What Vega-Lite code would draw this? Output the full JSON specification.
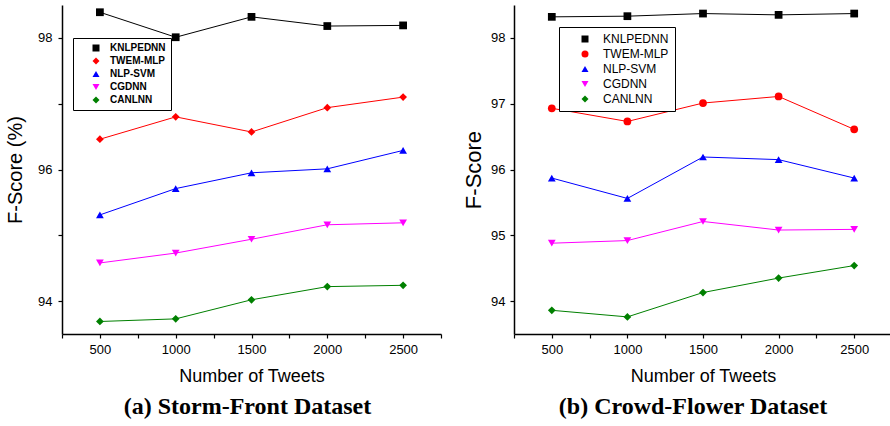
{
  "$schema": "https://vega.github.io/schema/vega-lite/v6.json",
  "padding": {"left": 5, "top": 5, "right": 0, "bottom": 0},
  "background": "white",
  "datasets": {
    "storm": [
      {"model": "KNLPEDNN", "tweets": 500, "score": 98.39},
      {"model": "KNLPEDNN", "tweets": 1000, "score": 98.01},
      {"model": "KNLPEDNN", "tweets": 1500, "score": 98.32},
      {"model": "KNLPEDNN", "tweets": 2000, "score": 98.18},
      {"model": "KNLPEDNN", "tweets": 2500, "score": 98.19},
      {"model": "TWEM-MLP", "tweets": 500, "score": 96.46},
      {"model": "TWEM-MLP", "tweets": 1000, "score": 96.80},
      {"model": "TWEM-MLP", "tweets": 1500, "score": 96.57},
      {"model": "TWEM-MLP", "tweets": 2000, "score": 96.94},
      {"model": "TWEM-MLP", "tweets": 2500, "score": 97.10},
      {"model": "NLP-SVM", "tweets": 500, "score": 95.31},
      {"model": "NLP-SVM", "tweets": 1000, "score": 95.71},
      {"model": "NLP-SVM", "tweets": 1500, "score": 95.95},
      {"model": "NLP-SVM", "tweets": 2000, "score": 96.01},
      {"model": "NLP-SVM", "tweets": 2500, "score": 96.29},
      {"model": "CGDNN", "tweets": 500, "score": 94.58},
      {"model": "CGDNN", "tweets": 1000, "score": 94.73},
      {"model": "CGDNN", "tweets": 1500, "score": 94.94},
      {"model": "CGDNN", "tweets": 2000, "score": 95.16},
      {"model": "CGDNN", "tweets": 2500, "score": 95.19},
      {"model": "CANLNN", "tweets": 500, "score": 93.69},
      {"model": "CANLNN", "tweets": 1000, "score": 93.73},
      {"model": "CANLNN", "tweets": 1500, "score": 94.02},
      {"model": "CANLNN", "tweets": 2000, "score": 94.22},
      {"model": "CANLNN", "tweets": 2500, "score": 94.24}
    ],
    "crowd": [
      {"model": "KNLPEDNN", "tweets": 500, "score": 98.32},
      {"model": "KNLPEDNN", "tweets": 1000, "score": 98.33},
      {"model": "KNLPEDNN", "tweets": 1500, "score": 98.37},
      {"model": "KNLPEDNN", "tweets": 2000, "score": 98.35},
      {"model": "KNLPEDNN", "tweets": 2500, "score": 98.37},
      {"model": "TWEM-MLP", "tweets": 500, "score": 96.93},
      {"model": "TWEM-MLP", "tweets": 1000, "score": 96.73},
      {"model": "TWEM-MLP", "tweets": 1500, "score": 97.01},
      {"model": "TWEM-MLP", "tweets": 2000, "score": 97.11},
      {"model": "TWEM-MLP", "tweets": 2500, "score": 96.61},
      {"model": "NLP-SVM", "tweets": 500, "score": 95.87},
      {"model": "NLP-SVM", "tweets": 1000, "score": 95.56},
      {"model": "NLP-SVM", "tweets": 1500, "score": 96.19},
      {"model": "NLP-SVM", "tweets": 2000, "score": 96.15},
      {"model": "NLP-SVM", "tweets": 2500, "score": 95.87},
      {"model": "CGDNN", "tweets": 500, "score": 94.88},
      {"model": "CGDNN", "tweets": 1000, "score": 94.92},
      {"model": "CGDNN", "tweets": 1500, "score": 95.21},
      {"model": "CGDNN", "tweets": 2000, "score": 95.08},
      {"model": "CGDNN", "tweets": 2500, "score": 95.09},
      {"model": "CANLNN", "tweets": 500, "score": 93.86},
      {"model": "CANLNN", "tweets": 1000, "score": 93.76},
      {"model": "CANLNN", "tweets": 1500, "score": 94.13},
      {"model": "CANLNN", "tweets": 2000, "score": 94.35},
      {"model": "CANLNN", "tweets": 2500, "score": 94.54}
    ]
  },
  "config": {
    "view": {"stroke": null},
    "font": "Liberation Sans",
    "axis": {
      "domainColor": "black", "domainWidth": 1.5,
      "tickColor": "black", "tickSize": 4, "tickWidth": 1.2,
      "labelColor": "black", "labelFont": "Liberation Sans", "labelFontSize": 13,
      "titleFont": "Liberation Sans", "titleColor": "black", "titleFontWeight": "normal",
      "grid": false, "labelOverlap": false
    },
    "legend": {
      "orient": "none", "strokeColor": "black", "fillColor": "white",
      "labelFont": "Liberation Sans", "labelColor": "black", "title": null
    }
  },
  "spacing": 20,
  "resolve": {"scale": {"shape": "independent", "color": "independent"}, "legend": {"color": "independent"}},
  "hconcat": [
    {
      "width": 379, "height": 329,
      "data": {"name": "storm"},
      "title": {"text": "(a) Storm-Front Dataset", "orient": "bottom", "frame": "group", "font": "Liberation Serif", "fontSize": 24, "fontWeight": "bold", "color": "black", "offset": 10, "dx": -4},
      "encoding": {
        "x": {"field": "tweets", "type": "quantitative", "scale": {"domain": [250, 2750], "nice": false, "zero": false},
              "axis": {"title": "Number of Tweets", "titleFontSize": 18, "titlePadding": 11, "format": "d", "values": [250, 500, 750, 1000, 1250, 1500, 1750, 2000, 2250, 2500, 2750], "labelExpr": "datum.value % 500 == 0 && datum.value > 250 && datum.value < 2750 ? datum.label : ''", "labelPadding": 5}},
        "y": {"field": "score", "type": "quantitative", "scale": {"domain": [93.5, 98.5], "nice": false, "zero": false},
              "axis": {"title": "F-Score (%)", "titleFontSize": 20, "titlePadding": 12, "values": [94, 95, 96, 97, 98], "labelExpr": "datum.value % 2 == 0 ? datum.label : ''", "labelPadding": 6}}
      },
      "layer": [
        {
          "mark": {"type": "line", "strokeWidth": 1},
          "encoding": {"color": {"field": "model", "type": "nominal", "scale": {"domain": ["KNLPEDNN", "TWEM-MLP", "NLP-SVM", "CGDNN", "CANLNN"], "range": ["#000000", "#ff0000", "#0000ff", "#ff00ff", "#008000"]},
            "legend": {"legendX": 11, "legendY": 33, "padding": 5, "symbolOffset": 13, "labelFontSize": 10, "labelFontWeight": "bold", "labelOffset": 9, "symbolSize": 49, "symbolStrokeWidth": 0, "rowPadding": 3}}}
        },
        {
          "mark": {"type": "point", "filled": true, "opacity": 1, "size": 60},
          "encoding": {
            "color": {"field": "model", "type": "nominal", "scale": {"domain": ["KNLPEDNN", "TWEM-MLP", "NLP-SVM", "CGDNN", "CANLNN"], "range": ["#000000", "#ff0000", "#0000ff", "#ff00ff", "#008000"]}, "legend": null},
            "shape": {"field": "model", "type": "nominal", "scale": {"domain": ["KNLPEDNN", "TWEM-MLP", "NLP-SVM", "CGDNN", "CANLNN"], "range": ["square", "diamond", "triangle-up", "triangle-down", "diamond"]}, "legend": null}
          }
        }
      ]
    },
    {
      "width": 378, "height": 329,
      "data": {"name": "crowd"},
      "title": {"text": "(b) Crowd-Flower Dataset", "orient": "bottom", "frame": "group", "font": "Liberation Serif", "fontSize": 24, "fontWeight": "bold", "color": "black", "offset": 10, "dx": -10},
      "encoding": {
        "x": {"field": "tweets", "type": "quantitative", "scale": {"domain": [250, 2750], "nice": false, "zero": false},
              "axis": {"title": "Number of Tweets", "titleFontSize": 18, "titlePadding": 11, "format": "d", "values": [250, 500, 750, 1000, 1250, 1500, 1750, 2000, 2250, 2500, 2750], "labelExpr": "datum.value % 500 == 0 && datum.value > 250 && datum.value < 2750 ? datum.label : ''", "labelPadding": 5}},
        "y": {"field": "score", "type": "quantitative", "scale": {"domain": [93.5, 98.5], "nice": false, "zero": false},
              "axis": {"title": "F-Score", "titleFontSize": 22, "titlePadding": 5, "format": "d", "values": [94, 94.5, 95, 95.5, 96, 96.5, 97, 97.5, 98], "labelExpr": "datum.value % 1 == 0 ? datum.label : ''", "labelPadding": 5}}
      },
      "layer": [
        {
          "mark": {"type": "line", "strokeWidth": 1},
          "encoding": {"color": {"field": "model", "type": "nominal", "scale": {"domain": ["KNLPEDNN", "TWEM-MLP", "NLP-SVM", "CGDNN", "CANLNN"], "range": ["#000000", "#ff0000", "#0000ff", "#ff00ff", "#008000"]},
            "legend": {"legendX": 45, "legendY": 22, "padding": 6, "symbolOffset": 14, "labelFontSize": 12, "labelOffset": 12, "symbolSize": 49, "symbolStrokeWidth": 0, "rowPadding": 3}}}
        },
        {
          "mark": {"type": "point", "filled": true, "opacity": 1, "size": 60},
          "encoding": {
            "color": {"field": "model", "type": "nominal", "scale": {"domain": ["KNLPEDNN", "TWEM-MLP", "NLP-SVM", "CGDNN", "CANLNN"], "range": ["#000000", "#ff0000", "#0000ff", "#ff00ff", "#008000"]}, "legend": null},
            "shape": {"field": "model", "type": "nominal", "scale": {"domain": ["KNLPEDNN", "TWEM-MLP", "NLP-SVM", "CGDNN", "CANLNN"], "range": ["square", "circle", "triangle-up", "triangle-down", "diamond"]}, "legend": null}
          }
        }
      ]
    }
  ]
}
